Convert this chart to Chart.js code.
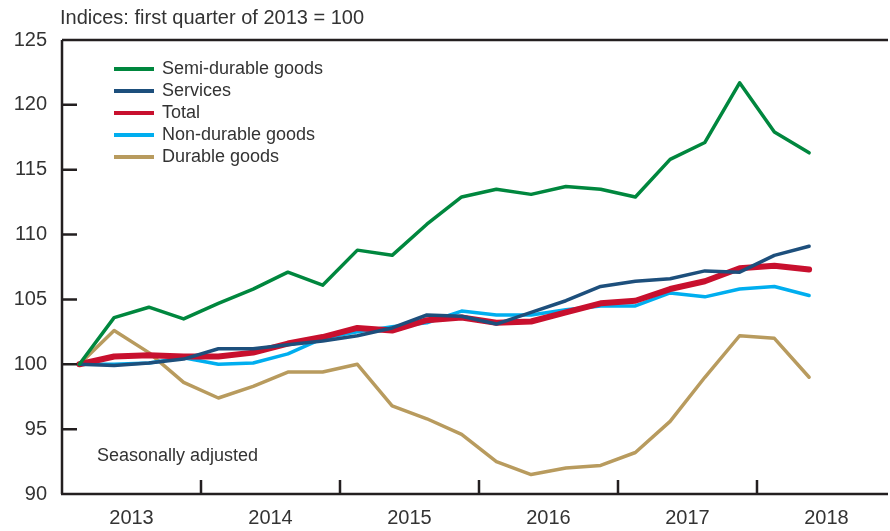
<!DOCTYPE html>
<html>
<head>
<meta charset="utf-8">
<script src="https://cdn.jsdelivr.net/npm/chart.js@4.4.1/dist/chart.umd.min.js"></script>
<style>
  html, body { margin: 0; padding: 0; background: #fff; }
  #wrap { width: 890px; height: 531px; position: relative; }
</style>
</head>
<body>
<div id="wrap"><canvas id="myChart" width="890" height="531"></canvas></div>
<script>
// quarters from 2013 Q1 to 2018 Q2
const quarters = ['2013 Q1','2013 Q2','2013 Q3','2013 Q4','2014 Q1','2014 Q2','2014 Q3','2014 Q4',
  '2015 Q1','2015 Q2','2015 Q3','2015 Q4','2016 Q1','2016 Q2','2016 Q3','2016 Q4',
  '2017 Q1','2017 Q2','2017 Q3','2017 Q4','2018 Q1','2018 Q2'];
const years = ['2013', '2014', '2015', '2016', '2017', '2018'];
const yTicks = [90, 95, 100, 105, 110, 115, 120, 125];

const semiDurable = [100, 103.6, 104.4, 103.5, 104.7, 105.8, 107.1, 106.1, 108.8, 108.4, 110.8, 112.9,
  113.5, 113.1, 113.7, 113.5, 112.9, 115.8, 117.1, 121.7, 117.9, 116.3];
const services = [100, 99.9, 100.1, 100.4, 101.2, 101.2, 101.5, 101.8, 102.2, 102.8, 103.8, 103.7,
  103.1, 104.0, 104.9, 106.0, 106.4, 106.6, 107.2, 107.1, 108.4, 109.1];
const total = [100, 100.6, 100.7, 100.6, 100.6, 100.9, 101.6, 102.1, 102.8, 102.6, 103.4, 103.6,
  103.2, 103.3, 104.0, 104.7, 104.9, 105.8, 106.4, 107.4, 107.6, 107.3];
const nonDurable = [100, 100.0, 100.1, 100.5, 100.0, 100.1, 100.8, 102.0, 102.5, 102.9, 103.2, 104.1,
  103.8, 103.8, 104.2, 104.5, 104.5, 105.5, 105.2, 105.8, 106.0, 105.3];
const durable = [100, 102.6, 100.9, 98.6, 97.4, 98.3, 99.4, 99.4, 100.0, 96.8, 95.8, 94.6,
  92.5, 91.5, 92.0, 92.2, 93.2, 95.6, 99.0, 102.2, 102.0, 99.0];

const FONT = "'Liberation Sans', Arial, sans-serif";
const TXT = '#333333';
const AXIS = '#231f20';

function pts(arr) {
  return arr.map((v, i) => ({ x: i + 0.5, y: v }));
}

function line(label, color, arr, width) {
  return {
    label: label,
    data: pts(arr),
    borderColor: color,
    backgroundColor: color,
    borderWidth: width,
    pointRadius: 0,
    borderJoinStyle: 'round',
    borderCapStyle: 'round',
    tension: 0
  };
}

let datasets = [
  line('Semi-durable goods', '#00873e', semiDurable, 3.5),
  line('Services', '#1d4f7c', services, 3.5),
  line('Total', '#c8102e', total, 6),
  line('Non-durable goods', '#00aeef', nonDurable, 3.5),
  line('Durable goods', '#b89b5e', durable, 3.5)
];

// axes, tick marks, legend and notes
const decor = {
  id: 'decor',
  afterDatasetsDraw(chart) {
    const ctx = chart.ctx;
    const a = chart.chartArea;
    const xs = chart.scales.x;
    const ys = chart.scales.y;
    ctx.save();
    ctx.strokeStyle = AXIS;
    ctx.lineWidth = 2.5;
    ctx.lineCap = 'butt';
    ctx.beginPath();
    ctx.moveTo(a.left, a.top);
    ctx.lineTo(a.right, a.top);
    ctx.moveTo(a.left, a.top);
    ctx.lineTo(a.left, a.bottom);
    ctx.moveTo(a.left - 1, a.bottom);
    ctx.lineTo(a.right, a.bottom);
    yTicks.forEach(v => {
      if (v === 90 || v === 125) return;
      const y = ys.getPixelForValue(v);
      ctx.moveTo(a.left, y);
      ctx.lineTo(a.left + 15, y);
    });
    for (let q = 4; q < 24; q += 4) {
      const x = xs.getPixelForValue(q);
      ctx.moveTo(x, a.bottom);
      ctx.lineTo(x, a.bottom - 14);
    }
    ctx.stroke();

    // legend
    ctx.font = '18px ' + FONT;
    ctx.textBaseline = 'middle';
    chart.data.datasets.forEach((ds, i) => {
      const y = 69 + i * 22;
      ctx.strokeStyle = ds.borderColor;
      ctx.lineWidth = 4;
      ctx.beginPath();
      ctx.moveTo(114, y);
      ctx.lineTo(154, y);
      ctx.stroke();
      ctx.fillStyle = TXT;
      ctx.fillText(ds.label, 162, y);
    });

    ctx.font = '18px ' + FONT;
    ctx.fillText('Seasonally adjusted', 97, 456);
    ctx.font = '20px ' + FONT;
    ctx.fillText('Indices: first quarter of 2013 = 100', 60, 18);
    ctx.restore();
  }
};

let config = {
  type: 'line',
  data: { datasets: datasets },
  options: {
    responsive: false,
    animation: false,
    layout: { padding: { top: 40, right: 2, left: 0, bottom: 0 } },
    plugins: { legend: { display: false }, tooltip: { enabled: false } },
    scales: {
      x: {
        type: 'linear',
        min: 0,
        max: 23.77,
        grid: { display: false, drawTicks: false },
        border: { display: false },
        afterBuildTicks: s => { s.ticks = years.map((y, i) => ({ value: i * 4 + 2 })); },
        afterFit: s => { s.height = 37; },
        ticks: {
          callback: (v) => years[Math.round((v - 2) / 4)],
          color: TXT,
          font: { family: FONT, size: 20 },
          padding: 12,
          maxRotation: 0,
          autoSkip: false
        }
      },
      y: {
        min: 90,
        max: 125,
        grid: { display: false, drawTicks: false },
        border: { display: false },
        afterBuildTicks: s => { s.ticks = yTicks.map(v => ({ value: v })); },
        afterFit: s => { s.width = 62; },
        ticks: {
          color: TXT,
          font: { family: FONT, size: 20 },
          padding: 15
        }
      }
    }
  },
  plugins: [decor]
};

let myChart = new Chart(document.getElementById('myChart'), config);
</script>
</body>
</html>
